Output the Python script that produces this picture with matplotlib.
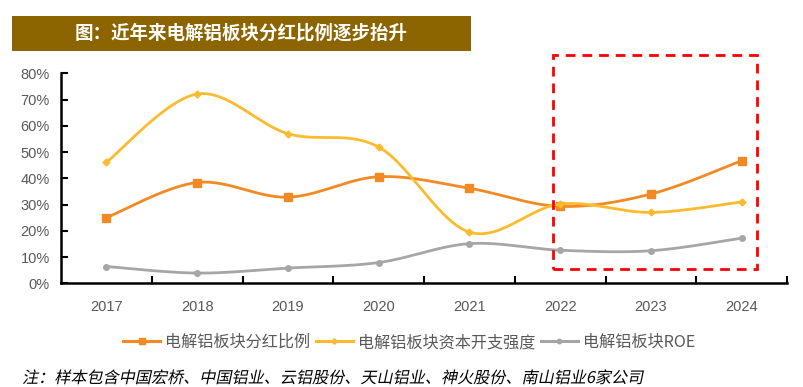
import numpy as np
import matplotlib
matplotlib.use("Agg")
import matplotlib.pyplot as plt
from matplotlib.patches import Rectangle, PathPatch
from matplotlib.textpath import TextPath
from matplotlib.font_manager import FontProperties
from matplotlib.transforms import Affine2D, IdentityTransform
from matplotlib.ticker import PercentFormatter, FixedLocator

plt.rcParams['font.family'] = ['Noto Sans CJK SC', 'DejaVu Sans']

# 数据
years = ["2017", "2018", "2019", "2020", "2021", "2022", "2023", "2024"]
dividend_ratio = [0.250, 0.384, 0.328, 0.406, 0.362, 0.293, 0.340, 0.467]
capex_intensity = [0.461, 0.721, 0.570, 0.519, 0.195, 0.302, 0.270, 0.310]
roe = [0.064, 0.039, 0.058, 0.079, 0.151, 0.126, 0.124, 0.172]

series_names = ["电解铝板块分红比例", "电解铝板块资本开支强度", "电解铝板块ROE"]
colors = ["#F28A23", "#FCBB2E", "#A6A6A6"]
markers = ["s", "D", "o"]
marker_sizes = [5.5, 3.5, 4.0]

title = "图：近年来电解铝板块分红比例逐步抬升"
note = "注：样本包含中国宏桥、中国铝业、云铝股份、天山铝业、神火股份、南山铝业6家公司"

W, H = 804, 387


# 平滑曲线 (Catmull-Rom, 类似 Excel 平滑线)
def smooth(x, y, n=30):
    pts = np.column_stack([x, y]).astype(float)
    p = np.vstack([pts[0], pts, pts[-1]])
    out = []
    t = np.linspace(0, 1, n)[:, None]
    for i in range(1, len(p) - 2):
        p0, p1, p2, p3 = p[i - 1], p[i], p[i + 1], p[i + 2]
        c1 = p1 + (p2 - p0) / 6
        c2 = p2 - (p3 - p1) / 6
        seg = ((1 - t) ** 3) * p1 + 3 * ((1 - t) ** 2) * t * c1 + 3 * (1 - t) * t ** 2 * c2 + t ** 3 * p2
        out.append(seg if i == 1 else seg[1:])
    out = np.vstack(out)
    return out[:, 0], out[:, 1]


fig = plt.figure(figsize=(W / 100, H / 100), dpi=100)
ax = fig.add_axes([61 / W, 1 - 283.3 / H, 726 / W, 210 / H])

x = np.arange(len(years))
all_series = [dividend_ratio, capex_intensity, roe]
for vals, name, c, m, ms in zip(all_series, series_names, colors, markers, marker_sizes):
    xs, ys = smooth(x, vals)
    ax.plot(xs, ys, color=c, lw=2.0, solid_capstyle='round')
    ax.plot(x, vals, ls='none', marker=m, ms=ms, color=c)
    ax.plot([], [], color=c, lw=2.2, marker=m, ms=ms * 0.8, label=name)

ax.set_xlim(-0.5, len(years) - 0.5)
ax.set_ylim(0, 0.8)
ax.set_yticks(np.arange(0, 0.81, 0.1))
ax.yaxis.set_major_formatter(PercentFormatter(1.0, decimals=0))
ax.set_xticks(x)
ax.set_xticklabels(years)
ax.xaxis.set_minor_locator(FixedLocator(np.arange(0.5, len(years), 1.0)))
ax.tick_params(axis='x', which='major', length=0, pad=12, labelsize=10.5, labelcolor='#595959')
ax.tick_params(axis='x', which='minor', direction='in', length=5, width=1.5, color='black')
ax.tick_params(axis='y', direction='in', length=5, width=1.5, pad=8, labelsize=10.5, labelcolor='#595959')
for lab in ax.get_xticklabels() + ax.get_yticklabels():
    lab.set_family(['Liberation Sans', 'DejaVu Sans'])

for s in ['top', 'right']:
    ax.spines[s].set_visible(False)
for s in ['left', 'bottom']:
    ax.spines[s].set_linewidth(1.8)
    ax.spines[s].set_color('black')

# 红色虚线框
box = Rectangle((4.92, 0.0556), 2.246, 0.815, fill=False, ec='#FF0000', lw=2.0,
                ls=(0, (3.5, 2.5)), clip_on=False, zorder=5)
ax.add_patch(box)

leg = fig.legend(loc='center', bbox_to_anchor=(409 / W, 1 - 342.5 / H), ncol=3, frameon=False,
                 fontsize=11.6, handlelength=2.3, handletextpad=0.3, columnspacing=0.35,
                 borderpad=0, borderaxespad=0)
for t in leg.get_texts():
    t.set_color('#595959')

# 标题栏
fig.patches.append(Rectangle((12 / W, 1 - 50.7 / H), 458.7 / W, 34.7 / H,
                             transform=fig.transFigure, fc='#8C6400', ec='none'))
fig.text(241 / W, 1 - 33.5 / H, title, color='white', fontsize=13.3, fontweight='bold',
         ha='center', va='center')

# 注释 (斜体, 用剪切变换模拟)
fs_px = 11.6 * 100 / 72
tp = TextPath((0, 0), note, size=fs_px, prop=FontProperties(family='Noto Sans CJK SC'))
skew = Affine2D().skew_deg(12, 0).translate(22, H - 383)
fig.patches.append(PathPatch(tp, transform=skew + IdentityTransform(), fc='black', ec='none', lw=0))

fig.savefig("out.png", dpi=100)
